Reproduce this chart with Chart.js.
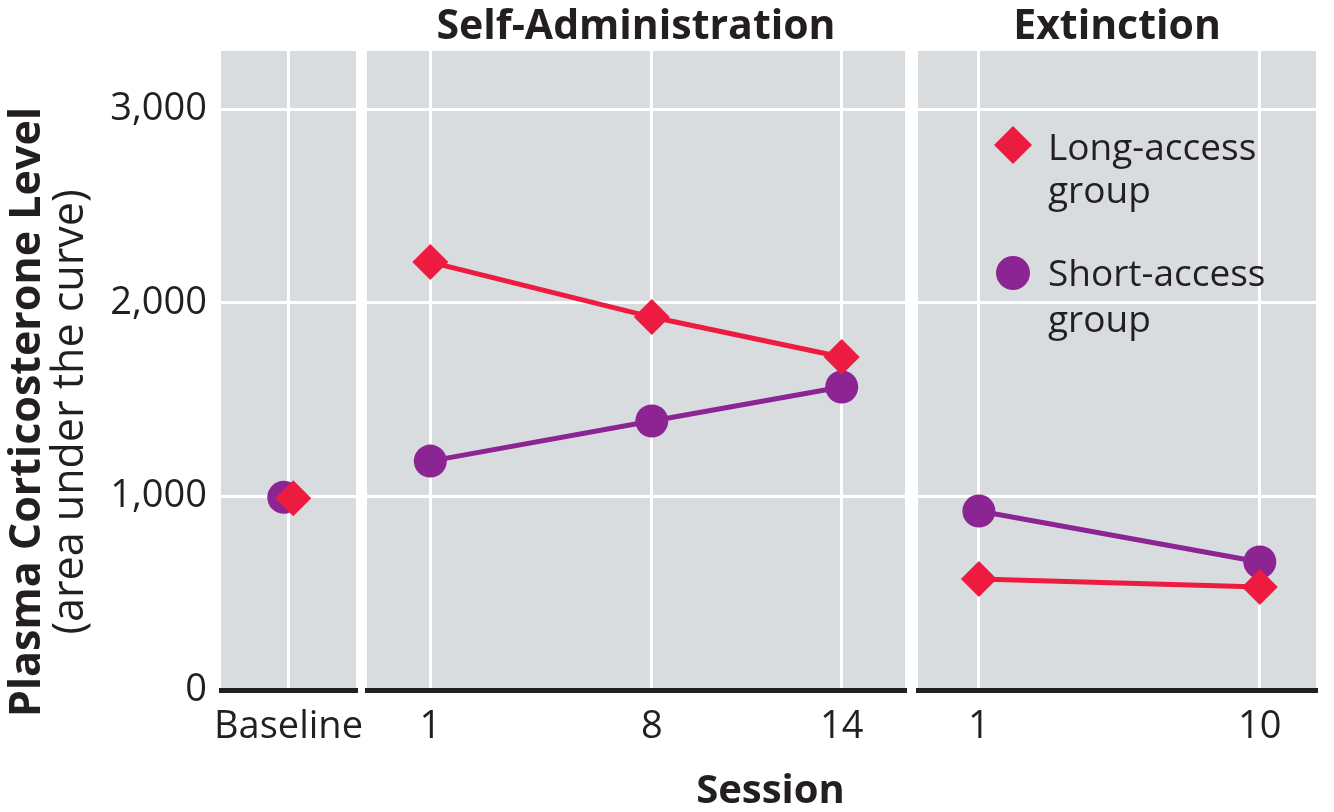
<!DOCTYPE html>
<html>
<head>
<meta charset="utf-8">
<script src="https://cdn.jsdelivr.net/npm/chart.js@4.4.1/dist/chart.umd.min.js"></script>
<style>
    html, body { margin: 0; background: #fff; }
    #fig { position: relative; width: 1334px; height: 812px; }
    #fig canvas { position: absolute; left: 0; top: 0; }
</style>
</head>
<body>
<div id="fig">
    <canvas id="cBase" width="1334" height="812"></canvas>
    <canvas id="cSelf" width="1334" height="812"></canvas>
    <canvas id="cExt" width="1334" height="812"></canvas>
</div>
<script>
// ── Data ─────────────────────────────────
const yTicks        = [0, 1000, 2000, 3000];
const baselineLabel = 'Baseline';
const baselineLong  = 990;
const baselineShort = 995;
const selfSessions  = [1, 8, 14];
const selfLong      = [2210, 1926, 1720];
const selfShort     = [1182, 1389, 1565];
const extSessions   = [1, 10];
const extLong       = [573, 532];
const extShort      = [924, 661];
const legendLabels  = [['Long-access', 'group'], ['Short-access', 'group']];

// ── Look ─────────────────────────────────
const FONT     = "'Open Sans', 'Noto Sans', sans-serif";
const INK      = '#231f20';
const RED      = '#ec1b3f';
const PURPLE   = '#8c2493';
const PANEL_BG = '#d9dcdf';
const W = 1334, H = 812;
const AREA_TOP = 51, AREA_BOTTOM = 690;
const BASE_JITTER = 0.15;

const longStyle  = { borderColor: RED, backgroundColor: RED, pointStyle: 'rectRot', pointRadius: 18, borderWidth: 5 };
const shortStyle = { borderColor: PURPLE, backgroundColor: PURPLE, pointStyle: 'circle', pointRadius: 16.5, borderWidth: 5 };

// ── Plugins ──────────────────────────────
const panelBg = {
    id: 'panelBg',
    beforeDraw(chart) {
        const { ctx, chartArea: a } = chart;
        ctx.save();
        ctx.fillStyle = PANEL_BG;
        ctx.fillRect(a.left, a.top, a.right - a.left, a.bottom - a.top);
        ctx.restore();
    }
};

const panelTitle = {
    id: 'panelTitle',
    afterDraw(chart, args, opts) {
        if (!opts.text) return;
        const { ctx, chartArea: a } = chart;
        ctx.save();
        ctx.font = `bold 41px ${FONT}`;
        ctx.fillStyle = INK;
        ctx.textAlign = 'center';
        ctx.textBaseline = 'alphabetic';
        ctx.fillText(opts.text, (a.left + a.right) / 2, a.top - 12);
        ctx.restore();
    }
};

// axis titles for the whole figure, drawn once on the first panel
const axisTitles = {
    id: 'axisTitles',
    afterDraw(chart, args, opts) {
        if (!opts.show) return;
        const ctx = chart.ctx;
        const cy = 412;
        ctx.save();
        ctx.fillStyle = INK;
        ctx.textAlign = 'center';
        ctx.textBaseline = 'alphabetic';
        ctx.translate(40, cy);
        ctx.rotate(-Math.PI / 2);
        ctx.font = `bold 43px ${FONT}`;
        ctx.fillText('Plasma Corticosterone Level', 0, 0);
        ctx.font = `43px ${FONT}`;
        ctx.fillText('(area under the curve)', 0, 43);
        ctx.restore();

        ctx.save();
        ctx.fillStyle = INK;
        ctx.textAlign = 'center';
        ctx.font = `bold 40px ${FONT}`;
        ctx.fillText('Session', opts.sessionX, 803);
        ctx.restore();
    }
};

const innerLegend = {
    id: 'innerLegend',
    afterDraw(chart, args, opts) {
        if (!opts.show) return;
        const { ctx, chartArea: a } = chart;
        const rows = [
            { ds: chart.data.datasets[0], my: 94,  lines: [109, 152] },
            { ds: chart.data.datasets[1], my: 222, lines: [235, 281] }
        ];
        ctx.save();
        rows.forEach((row, i) => {
            const mx = a.left + 95, my = a.top + row.my;
            ctx.fillStyle = row.ds.backgroundColor;
            ctx.beginPath();
            if (row.ds.pointStyle === 'rectRot') {
                const r = 19;
                ctx.moveTo(mx - r, my); ctx.lineTo(mx, my - r);
                ctx.lineTo(mx + r, my); ctx.lineTo(mx, my + r);
                ctx.closePath();
            } else {
                ctx.arc(mx, my, 17, 0, Math.PI * 2);
            }
            ctx.fill();
            ctx.fillStyle = INK;
            ctx.font = `37px ${FONT}`;
            ctx.textAlign = 'left';
            legendLabels[i].forEach((t, j) => ctx.fillText(t, a.left + 130, a.top + row.lines[j]));
        });
        ctx.restore();
    }
};

// ── Panel factory ────────────────────────
function makePanel(id, cfg) {
    const tickFont = { family: FONT, size: 38 };
    return new Chart(document.getElementById(id), {
        type: 'line',
        data: { datasets: cfg.datasets },
        plugins: [panelBg, panelTitle, axisTitles, innerLegend],
        options: {
            responsive: false,
            animation: false,
            events: [],
            layout: { padding: { left: cfg.padLeft, right: W - cfg.right, top: AREA_TOP, bottom: 0 } },
            plugins: {
                legend: { display: false },
                tooltip: { enabled: false },
                panelTitle: { text: cfg.title },
                axisTitles: { show: !!cfg.axisTitles, sessionX: cfg.sessionX },
                innerLegend: { show: !!cfg.legend }
            },
            scales: {
                x: {
                    type: 'linear',
                    min: cfg.min,
                    max: cfg.max,
                    afterBuildTicks: s => { s.ticks = cfg.ticks.map(v => ({ value: v })); },
                    afterFit: s => { s.height = H - AREA_BOTTOM; },
                    grid: { color: '#ffffff', lineWidth: 3, drawTicks: false },
                    border: { display: true, color: INK, width: 5 },
                    ticks: {
                        callback: cfg.tickLabel,
                        font: tickFont,
                        color: INK,
                        padding: 14,
                        maxRotation: 0,
                        autoSkip: false
                    }
                },
                y: {
                    min: 0,
                    max: 3300,
                    afterBuildTicks: s => { s.ticks = yTicks.map(v => ({ value: v })); },
                    afterFit: s => { s.width = cfg.yWidth; },
                    grid: {
                        color: c => c.tick && c.tick.value === 0 ? 'rgba(0,0,0,0)' : '#ffffff',
                        lineWidth: 3,
                        drawTicks: false
                    },
                    border: { display: false },
                    ticks: {
                        display: cfg.yWidth > 0,
                        callback: v => v.toLocaleString('en-US'),
                        font: tickFont,
                        color: INK,
                        padding: 14
                    }
                }
            }
        }
    });
}

function series(xs, ys, style, label) {
    return Object.assign({
        label,
        data: xs.map((x, i) => ({ x, y: ys[i] })),
        pointBackgroundColor: style.backgroundColor,
        pointBorderWidth: 0,
        clip: false
    }, style);
}

// ── Baseline ─────────────────────────────
makePanel('cBase', {
    padLeft: 0, yWidth: 221, right: 356,
    min: -2.14, max: 2.14, ticks: [0],
    tickLabel: () => baselineLabel,
    axisTitles: true, sessionX: (221 + 1320) / 2,
    datasets: [
        series([BASE_JITTER], [baselineLong], longStyle, 'Long-access group'),
        series([-BASE_JITTER], [baselineShort], shortStyle, 'Short-access group')
    ]
});

// ── Self-Administration ──────────────────
makePanel('cSelf', {
    padLeft: 367, yWidth: 0, right: 905,
    min: -1, max: 16, ticks: selfSessions,
    tickLabel: v => String(v),
    title: 'Self-Administration',
    datasets: [
        series(selfSessions, selfLong, longStyle, 'Long-access group'),
        series(selfSessions, selfShort, shortStyle, 'Short-access group')
    ]
});

// ── Extinction ───────────────────────────
makePanel('cExt', {
    padLeft: 918, yWidth: 0, right: 1320,
    min: -0.95, max: 11.8, ticks: extSessions,
    tickLabel: v => String(v),
    title: 'Extinction',
    legend: true,
    datasets: [
        series(extSessions, extLong, longStyle, 'Long-access group'),
        series(extSessions, extShort, shortStyle, 'Short-access group')
    ]
});
</script>
</body>
</html>
